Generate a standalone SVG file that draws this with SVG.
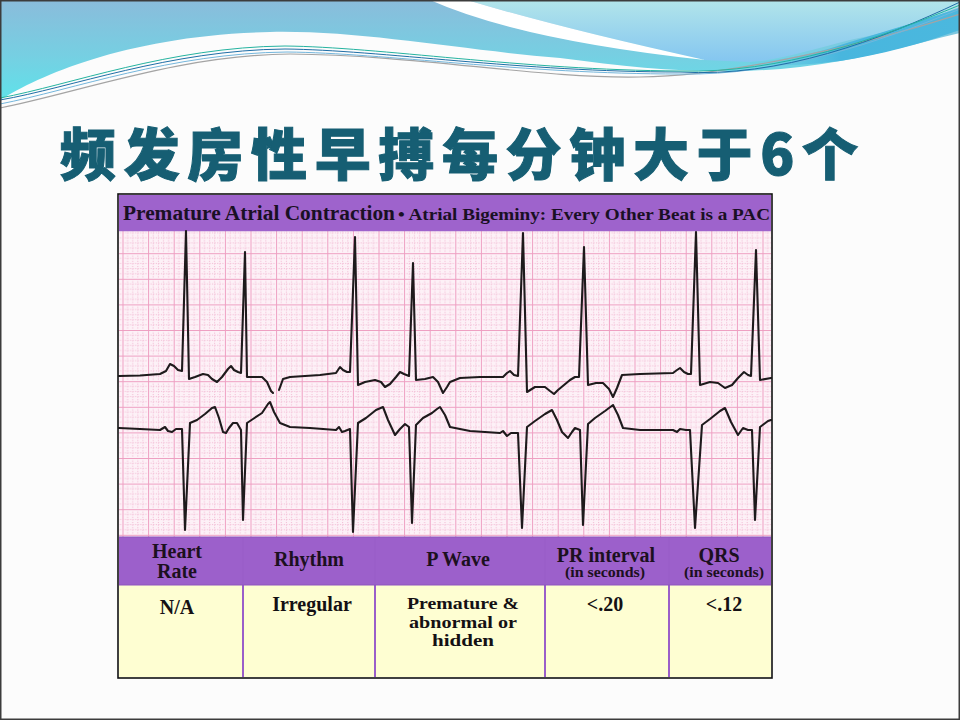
<svg xmlns="http://www.w3.org/2000/svg" width="960" height="720" viewBox="0 0 960 720">
<defs>
<linearGradient id="gBlue" x1="0" y1="0" x2="0" y2="100" gradientUnits="userSpaceOnUse">
<stop offset="0" stop-color="#8abcdb"/>
<stop offset="0.55" stop-color="#76cfe2"/>
<stop offset="1" stop-color="#5fe2ea"/>
</linearGradient>
<linearGradient id="gLight" x1="0" y1="0" x2="0" y2="62" gradientUnits="userSpaceOnUse">
<stop offset="0" stop-color="#b2e5ea"/>
<stop offset="1" stop-color="#84c6f0"/>
</linearGradient>
<linearGradient id="gBand" x1="760" y1="0" x2="960" y2="0" gradientUnits="userSpaceOnUse">
<stop offset="0" stop-color="#62c8e4" stop-opacity="0.3"/>
<stop offset="0.4" stop-color="#48b6de"/>
<stop offset="1" stop-color="#4bb8de"/>
</linearGradient>
<pattern id="grid" x="122.5" y="227.6" width="25.6" height="25.6" patternUnits="userSpaceOnUse">
<g class="minor">
<line x1="5.12" y1="0" x2="5.12" y2="25.6"/>
<line x1="10.24" y1="0" x2="10.24" y2="25.6"/>
<line x1="15.36" y1="0" x2="15.36" y2="25.6"/>
<line x1="20.48" y1="0" x2="20.48" y2="25.6"/>
<line y1="5.12" x1="0" y2="5.12" x2="25.6"/>
<line y1="10.24" x1="0" y2="10.24" x2="25.6"/>
<line y1="15.36" x1="0" y2="15.36" x2="25.6"/>
<line y1="20.48" x1="0" y2="20.48" x2="25.6"/>
</g>
<line class="major" x1="0.5" y1="0" x2="0.5" y2="25.6"/>
<line class="major" x1="0" y1="0.5" x2="25.6" y2="0.5"/>
</pattern>
</defs>
<style>
.minor line { stroke:#f1b3cf; stroke-width:0.9; stroke-dasharray:1.1 1.46; }
.major { stroke:#ee9fc2; stroke-width:1; }
.ecg { fill:none; stroke:#1e1a1c; stroke-width:2.1; stroke-linejoin:round; stroke-linecap:round; }
.th { font-family:"Liberation Serif", serif; font-weight:bold; font-size:20px; fill:#1c1020; text-anchor:middle; }
.sub { font-family:"Liberation Serif", serif; font-weight:bold; font-size:14px; fill:#1c1020; text-anchor:middle; }
.td { font-family:"Liberation Serif", serif; font-weight:bold; font-size:20px; fill:#141014; text-anchor:middle; }
.td2 { font-family:"Liberation Serif", serif; font-weight:bold; font-size:17px; fill:#141014; text-anchor:middle; }
.div { stroke:#9a5ec9; stroke-width:2; }
.deco { fill:none; }
</style>

<rect width="960" height="720" fill="#fcfcfc"/>

<g id="top-decoration">
<path d="M0,0 H960 V33 C910,45 860,60 800,67 C720,76 650,70 560,58 C460,50 360,30 270,32 C130,35 40,75 0,100 Z" fill="url(#gBlue)"/>
<path d="M467,0 H960 V7 C930,18 900,30 850,40 C810,50 780,60 750,62 L705,60 Q560,28 467,0 Z" fill="url(#gLight)"/>
<path d="M750,62 C790,60 820,52 850,42 C890,30 930,18 960,8 V30 C920,44 880,55 840,61 C800,66 770,66 750,64 Z" fill="url(#gBand)"/>
<path d="M430,0 H467 Q560,28 705,60 Q520,40 430,0 Z" fill="#ffffff"/>
<path class="deco" d="M0,108 C80,92 180,55 290,54 C420,55 540,79 640,77 C730,76 860,46 960,14" stroke="#a4a4a4" stroke-width="1.2"/>
<path class="deco" d="M0,104 C72,90 172,53 287,52 C385,53 522,74 680,74 C780,76 880,42 960,9" stroke="#74b6dc" stroke-width="1"/>
<path class="deco" d="M0,100 C70,88 170,50 285,49 C380,50 520,72 680,72 C780,78 880,40 960,2" stroke="#1f6ea6" stroke-width="1"/>
<path class="deco" d="M0,98 C70,85 170,47 285,46 C380,47 520,70 680,71 C780,74 880,38 960,5" stroke="#25b3a0" stroke-width="1"/>
</g>

<g id="title">
<text x="60" y="175" textLength="798" lengthAdjust="spacing" font-family="'Noto Sans CJK SC', 'Noto Sans', sans-serif" font-weight="900" font-size="56" fill="#165e73" stroke="#165e73" stroke-width="1">频发房性早搏每分钟大于6个</text>
</g>

<g id="ecg-strip">
<rect x="119" y="195" width="652" height="35" fill="#9e63cc"/>
<text x="123" y="220" textLength="272" lengthAdjust="spacingAndGlyphs" font-family="'Liberation Serif', serif" font-weight="bold" font-size="20" fill="#1a1024">Premature Atrial Contraction</text>
<text x="398" y="220" textLength="372" lengthAdjust="spacingAndGlyphs" font-family="'Liberation Serif', serif" font-weight="bold" font-size="16.5" fill="#1a1024">• Atrial Bigeminy: Every Other Beat is a PAC</text>
<rect x="119" y="230" width="652" height="307" fill="#fdf1f7"/>
<rect x="119" y="230" width="652" height="307" fill="url(#grid)"/>
<line x1="119" y1="230.5" x2="771" y2="230.5" stroke="#9e63cc" stroke-width="1.5"/>
</g>

<g id="connectors">
<path id="lead-upper" class="ecg" d="M119,376 L140,375.5 L160,374 L166,371 L170,364 L174,366 L178,370 L182,371 L186,231 L189,379 L195,377 L203,374 L208,375 L212,379 L217,382 L222,377 L228,369 L231,366 L234,370 L238,372 L241,373 L245,252 L247,377 L255,377 L262,377 L267,382 L271,391 L273,393 M279,390 L283,379 L290,377 L320,375 L336,373 L340,367 L343,370 L347,372 L350,372 L355,237 L358,385 L365,382 L375,380 L381,382 L385,387 L390,384 L396,377 L400,372 L404,374 L409,376 L413,263 L416,380 L425,379 L433,377 L438,382 L443,393 L447,387 L450,382 L460,378 L480,377 L503,377 L507,373 L510,371 L514,375 L518,376 L523,233 L527,392 L535,387 L545,387 L550,391 L554,394 L558,390 L564,385 L570,380 L575,377 L579,377 L584,247 L588,385 L596,383 L603,383 L609,389 L613,397 L617,388 L622,375 L640,374 L673,373 L677,370 L680,368 L684,372 L688,374 L691,374 L696,232 L700,385 L710,382 L718,383 L725,388 L732,385 L738,378 L744,372 L748,375 L751,376 L756,250 L760,380 L771,378"/>
<path id="lead-lower" class="ecg" d="M119,428 L140,429 L160,430 L165,427 L168,431 L172,432 L176,429 L182,429 L185,530 L190,423 L197,420 L205,414 L212,408 L215,407 L219,418 L223,432 L226,433 L229,428 L233,423 L237,423 L241,430 L243,520 L247,423 L253,419 L262,413 L268,404 L270,402 L274,412 L280,423 L290,427 L310,428 L336,430 L339,427 L342,432 L345,431 L350,429 L353,532 L358,423 L366,418 L376,410 L383,407 L388,420 L395,435 L400,429 L405,424 L409,427 L412,523 L416,425 L423,418 L432,413 L437,409 L440,407 L445,415 L450,427 L470,431 L500,433 L503,431 L507,436 L511,433 L518,433 L522,528 L527,427 L535,421 L545,414 L552,410 L557,420 L562,432 L568,438 L572,432 L575,428 L580,430 L583,525 L588,424 L595,418 L605,411 L613,405 L618,415 L623,428 L640,430 L673,430 L677,432 L680,429 L686,430 L690,430 L695,528 L702,425 L710,419 L720,411 L725,408 L731,422 L738,435 L743,428 L748,430 L752,430 L755,520 L760,427 L768,421 L771,420"/>
</g>

<g id="table-header">
<rect x="119" y="537" width="652" height="48" fill="#9c60cb"/>
<text class="th" x="177" y="558">Heart</text>
<text class="th" x="177" y="578">Rate</text>
<text class="th" x="309" y="566">Rhythm</text>
<text class="th" x="458" y="566">P Wave</text>
<text class="th" x="606" y="562">PR interval</text>
<text class="sub" x="605" y="577" textLength="80" lengthAdjust="spacingAndGlyphs">(in seconds)</text>
<text class="th" x="719" y="562">QRS</text>
<text class="sub" x="724" y="577" textLength="80" lengthAdjust="spacingAndGlyphs">(in seconds)</text>
</g>

<g id="table-body">
<rect x="119" y="585" width="652" height="92" fill="#fefed2"/>
<text class="td" x="177" y="614">N/A</text>
<text class="td" x="312" y="611">Irregular</text>
<text class="td2" x="463" y="609" textLength="112" lengthAdjust="spacingAndGlyphs">Premature &amp;</text>
<text class="td2" x="463" y="627.5" textLength="108" lengthAdjust="spacingAndGlyphs">abnormal or</text>
<text class="td2" x="463" y="646" textLength="62" lengthAdjust="spacingAndGlyphs">hidden</text>
<text class="td" x="605" y="611">&lt;.20</text>
<text class="td" x="724" y="611">&lt;.12</text>
</g>

<g id="table-lines">
<line class="div" x1="243" y1="537" x2="243" y2="677"/>
<line class="div" x1="375" y1="537" x2="375" y2="677"/>
<line class="div" x1="545" y1="537" x2="545" y2="677"/>
<line class="div" x1="669" y1="537" x2="669" y2="677"/>
<line x1="119" y1="585" x2="771" y2="585" stroke="#8e55bd" stroke-width="1"/>
<line x1="119" y1="537" x2="771" y2="537" stroke="#8e55bd" stroke-width="1"/>
<rect x="118" y="194" width="654" height="484" fill="none" stroke="#111" stroke-width="1.6"/>
</g>

<rect x="0.75" y="0.75" width="958.5" height="718.5" fill="none" stroke="#3c3c3c" stroke-width="1.5"/>
</svg>
